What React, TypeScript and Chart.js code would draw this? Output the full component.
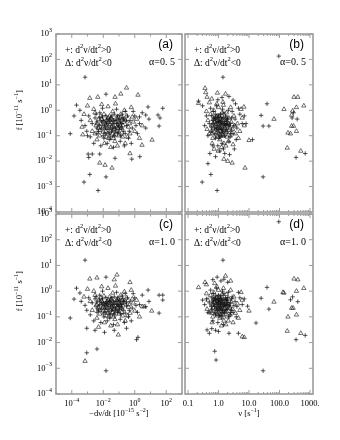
import React, { useEffect, useRef } from 'react';
import { Chart, registerables } from 'chart.js';
Chart.register(...registerables);

type P = [number, number];

// ---------- tick labels ----------
const yTickValues = [1e3, 1e2, 1e1, 1, 1e-1, 1e-2, 1e-3, 1e-4];
const yTickExps = ['3', '2', '1', '0', '−1', '−2', '−3', '−4'];
const xLeftTickValues = [1e-5, 1e-4, 1e-3, 1e-2, 1e-1, 1, 1e1, 1e2, 1e3];
const xLeftLabelValues = [1e-4, 1e-2, 1, 1e2];
const xLeftLabelExps = ['−4', '−2', '0', '2'];
const xRightLabelValues = [0.1, 1, 10, 100, 1000];
const xRightLabels = ['0.1', '1.0', '10.0', '100.0', '1000.'];

// ---------- panel (a): -dnu/dt vs f, alpha = 0.5 ----------
const aPlus: P[] = [
  [7e-4, 20], [8e-5, 0.12], [1.4e-4, 0.6], [3.3e-4, 1], [2e-4, 1.6], [6e-4, 1.5e-3], [1.4e-3, 3e-3], [4.7e-3, 7e-4],
  [0.015, 2.4e-3], [1.2e-3, 0.014], [60, 1.2], [30, 0.65], [40, 0.5], [35, 0.24], [7, 1.35], [2, 0.55], [5, 0.65],
  [0.015, 4.3], [1e-3, 0.1], [1.1e-3, 0.019], [2e-3, 0.019], [6e-3, 0.019], [0.056, 0.013], [2.1, 0.015], [0.65, 0.012],
  [2e-3, 0.3], [3e-3, 0.5], [4e-3, 0.2], [5e-3, 0.15], [6e-3, 0.8], [8e-3, 0.35], [0.01, 0.1], [0.012, 0.25], [0.015, 0.6],
  [0.02, 0.18], [0.025, 0.4], [0.03, 0.09], [0.04, 0.3], [0.05, 0.7], [0.06, 0.2], [0.08, 0.12], [0.1, 0.45], [0.12, 0.06],
  [0.15, 0.3], [0.2, 0.15], [0.25, 0.9], [0.3, 0.25], [0.4, 0.08], [0.5, 0.4], [0.7, 0.2], [1, 0.6], [1.5, 0.12], [2, 0.3],
  [3, 0.8], [1.2e-3, 0.6], [1.5e-3, 0.09], [2.5e-3, 0.05], [7e-3, 0.04], [9e-3, 1.2], [0.018, 0.05], [0.035, 0.6],
  [0.045, 0.035], [0.07, 1.1], [0.09, 0.25], [0.11, 0.18], [0.18, 0.5], [0.22, 0.04], [0.35, 0.6], [0.6, 0.05], [0.8, 0.9],
  [1.2, 0.25], [4e-4, 0.4], [7e-4, 0.25], [9e-4, 0.15], [0.013, 0.12], [0.028, 0.22], [0.055, 0.14], [0.13, 0.1],
  [0.016, 0.32], [0.004, 0.35], [0.009, 0.55], [0.033, 0.15], [0.065, 0.4], [0.16, 0.7], [0.45, 0.15], [5, 0.2], [8, 0.45],
  [4e-3, 0.12], [6e-3, 0.25], [0.01, 0.4], [0.014, 0.2], [0.02, 0.3], [0.024, 0.12], [0.03, 0.5], [0.04, 0.18], [0.05, 0.1],
  [0.07, 0.3], [0.09, 0.14], [0.12, 0.35], [0.15, 0.2], [0.2, 0.45], [0.25, 0.12], [0.011, 0.08], [0.017, 0.45],
  [0.026, 0.07], [0.045, 0.4], [0.08, 0.6], [0.1, 0.22], [0.3, 0.4], [0.006, 0.5], [0.008, 0.2], [0.0035, 0.7],
];
const aTri: P[] = [
  [0.3, 7.6], [0.13, 4.4], [0.056, 3.3], [0.0045, 3.3], [1.4e-3, 3], [1.6, 4], [12.6, 0.068], [4.5e-4, 0.22], [5e-4, 0.11],
  [6e-3, 8.5e-3], [0.013, 7e-3], [0.036, 5.4e-3], [0.5, 0.02], [2.9, 0.043],
  [1.5e-3, 0.4], [2e-3, 0.15], [3e-3, 0.8], [3.5e-3, 0.25], [5e-3, 0.45], [6e-3, 0.1], [7e-3, 0.3], [9e-3, 0.2], [0.011, 0.7],
  [0.014, 0.15], [0.017, 0.4], [0.022, 0.08], [0.027, 0.28], [0.032, 0.5], [0.038, 0.12], [0.045, 0.22], [0.055, 0.06],
  [0.065, 0.35], [0.075, 0.15], [0.09, 0.55], [0.11, 0.3], [0.14, 0.2], [0.17, 0.09], [0.2, 0.35], [0.25, 0.05], [0.3, 0.6],
  [0.4, 0.22], [0.5, 0.12], [0.6, 1.3], [0.8, 0.35], [1, 0.15], [1.3, 0.45], [2, 0.08], [3, 0.25], [1e-3, 1.5], [2.5e-3, 1.1],
  [4e-3, 0.07], [8e-3, 1.7], [0.012, 0.05], [0.02, 1.4], [0.025, 0.6], [0.03, 0.035], [0.04, 0.9], [0.06, 1.8], [0.08, 0.04],
  [0.1, 0.1], [0.13, 0.7], [0.16, 0.45], [0.22, 1], [0.35, 0.09], [0.45, 0.3], [0.7, 0.55], [0.015, 0.25], [0.05, 0.18],
  [0.007, 0.6], [0.035, 0.32], [0.12, 0.25], [0.019, 0.12], [6e-4, 0.7], [0.003, 0.12],
  [4e-3, 0.3], [5e-3, 0.2], [0.008, 0.45], [0.01, 0.14], [0.013, 0.3], [0.018, 0.2], [0.021, 0.5], [0.028, 0.15],
  [0.034, 0.22], [0.042, 0.4], [0.05, 0.1], [0.06, 0.25], [0.07, 0.5], [0.085, 0.2], [0.1, 0.35], [0.15, 0.13], [0.18, 0.25],
  [0.25, 0.4], [0.011, 0.35], [0.016, 0.09], [0.024, 0.4], [0.045, 0.08], [0.12, 0.5], [0.006, 0.16],
];

// ---------- panel (b): nu vs f, alpha = 0.5 ----------
const bPlus: P[] = [
  [1.4, 20], [95, 135], [0.29, 1.5e-3], [0.9, 7e-4], [0.56, 3e-3], [0.45, 8e-3], [29, 2.4e-3],
  [39, 1.8], [25, 0.63], [29, 0.24], [45, 0.24], [290, 0.8], [260, 0.5], [380, 0.45], [700, 0.02], [350, 0.014], [13, 0.07],
  [0.22, 2.3], [0.95, 2.6], [3, 2.5], [1.3, 3.2], [2.2, 3.5],
  [0.5, 0.3], [0.6, 0.15], [0.7, 0.5], [0.8, 0.08], [0.9, 0.25], [1, 0.6], [1.1, 0.12], [1.2, 0.35], [1.3, 0.05], [1.4, 0.2],
  [1.5, 0.8], [1.6, 0.1], [1.8, 0.4], [2, 0.15], [2.2, 0.06], [2.5, 0.3], [2.8, 0.9], [3, 0.12], [3.5, 0.45], [4, 0.2], [5, 0.7],
  [6, 0.3], [0.4, 0.6], [0.45, 0.1], [0.55, 1.2], [0.65, 0.04], [0.75, 0.2], [0.85, 1.5], [0.95, 0.04], [1.05, 0.4], [1.15, 0.7],
  [1.25, 0.18], [1.35, 1.1], [1.45, 0.03], [1.7, 0.6], [1.9, 0.28], [2.1, 1], [2.4, 0.09], [2.7, 0.5], [3.2, 0.25], [3.8, 0.07],
  [4.5, 1.2], [0.35, 0.25], [0.3, 1.5], [0.52, 0.02], [0.8, 0.015], [1.1, 0.025], [1.6, 0.02], [2.3, 0.018], [3.3, 0.03],
  [0.68, 0.9], [0.88, 0.35], [1.0, 0.18], [1.22, 0.5], [1.55, 0.3], [2.0, 0.5], [2.6, 0.15], [0.58, 0.22], [0.78, 0.7],
  [3.6, 1.8], [7, 0.6], [8, 0.3],
  [0.7, 0.3], [0.8, 0.45], [0.9, 0.15], [1.0, 0.35], [1.1, 0.22], [1.2, 0.1], [1.3, 0.28], [1.4, 0.5], [1.5, 0.14], [1.6, 0.3],
  [1.8, 0.18], [2.0, 0.35], [2.2, 0.25], [2.5, 0.12], [0.75, 0.12], [0.85, 0.2], [0.95, 0.5], [1.15, 0.3], [1.35, 0.15],
  [1.7, 0.25], [0.65, 0.4], [0.6, 0.6], [1.05, 0.08], [1.9, 0.45],
];
const bTri: P[] = [
  [0.36, 7.4], [0.42, 3.3], [0.22, 1.9], [0.92, 4.8], [1.7, 4.4], [1.4, 2.1], [0.38, 5], [0.6, 2.8], [6.8, 1.35],
  [7.4, 5.4e-3], [2.8, 8.5e-3], [1.5, 0.012], [2, 0.01],
  [300, 3.3], [400, 3.3], [630, 1.5], [360, 1.3], [140, 1.1], [270, 0.95], [250, 0.65], [66, 0.45], [190, 0.13], [230, 0.12],
  [360, 0.15], [180, 0.033], [500, 0.025], [10, 0.066], [250, 0.24], [290, 0.24],
  [0.45, 0.4], [0.5, 0.12], [0.55, 0.7], [0.6, 0.25], [0.65, 0.08], [0.7, 1], [0.75, 0.35], [0.8, 0.18], [0.85, 0.55],
  [0.9, 0.1], [0.95, 0.3], [1, 1.3], [1.05, 0.22], [1.1, 0.07], [1.15, 0.45], [1.2, 0.15], [1.3, 0.6], [1.4, 0.28], [1.5, 0.05],
  [1.6, 0.4], [1.7, 0.13], [1.8, 0.8], [2, 0.25], [2.2, 0.5], [2.4, 0.1], [2.6, 0.35], [2.9, 0.18], [3.2, 0.6], [3.6, 0.12],
  [4.2, 0.3], [5, 0.15], [6, 0.5], [0.4, 0.9], [0.5, 2], [0.62, 0.05], [0.72, 0.03], [0.88, 1.8], [0.98, 0.025], [1.25, 0.035],
  [1.45, 1.6], [1.75, 0.04], [2.1, 0.06], [2.5, 1.3], [3, 0.045], [3.4, 0.25], [0.42, 0.18], [0.68, 0.45], [0.82, 0.28],
  [1.02, 0.6], [1.22, 0.38], [1.62, 0.2], [1.92, 0.09], [2.3, 0.22], [0.58, 0.15], [1.35, 0.1], [4.5, 0.08], [5.5, 1.1], [7, 0.25],
  [0.7, 0.2], [0.78, 0.5], [0.85, 0.12], [0.92, 0.4], [1.0, 0.2], [1.08, 0.35], [1.18, 0.1], [1.28, 0.25], [1.38, 0.4],
  [1.5, 0.18], [1.65, 0.3], [1.85, 0.14], [2.1, 0.3], [2.4, 0.2], [0.66, 0.3], [0.9, 0.6], [1.12, 0.15], [1.45, 0.1],
  [1.75, 0.5], [0.6, 0.12], [1.3, 0.8], [0.95, 0.09],
];

// ---------- panel (c): -dnu/dt vs f, alpha = 1.0 ----------
const cPlus: P[] = [
  [7e-4, 16], [8e-5, 0.09], [1.4e-4, 0.49], [3.3e-4, 0.85], [9e-4, 4e-3], [4e-3, 5.6e-3], [0.015, 8e-4], [35, 0.7], [60, 0.7],
  [60, 0.45], [35, 0.14], [7, 1.1], [0.015, 3.5], [2e-4, 1.3],
  [2e-3, 0.35], [3e-3, 0.5], [4e-3, 0.22], [5e-3, 0.18], [6e-3, 0.7], [8e-3, 0.35], [0.01, 0.13], [0.012, 0.28], [0.015, 0.55],
  [0.02, 0.2], [0.025, 0.4], [0.03, 0.12], [0.04, 0.3], [0.05, 0.6], [0.06, 0.22], [0.08, 0.15], [0.1, 0.45], [0.12, 0.08],
  [0.15, 0.3], [0.2, 0.18], [0.25, 0.8], [0.3, 0.27], [0.4, 0.1], [0.5, 0.4], [0.7, 0.22], [1, 0.55], [1.5, 0.15], [2, 0.3],
  [3, 0.7], [1.2e-3, 0.55], [1.5e-3, 0.12], [2.5e-3, 0.07], [7e-3, 0.06], [9e-3, 1], [0.018, 0.07], [0.035, 0.55],
  [0.045, 0.05], [0.07, 0.9], [0.09, 0.28], [0.11, 0.2], [0.18, 0.5], [0.22, 0.06], [0.35, 0.55], [0.6, 0.07], [0.8, 0.8],
  [1.2, 0.28], [4e-4, 0.4], [7e-4, 0.28], [9e-4, 0.18], [0.013, 0.15], [0.028, 0.25], [0.055, 0.17], [0.13, 0.13],
  [0.016, 0.33], [0.004, 0.38], [0.009, 0.5], [0.033, 0.18], [0.065, 0.4], [0.16, 0.65], [0.45, 0.18], [5, 0.25], [8, 0.4],
  [1.6, 0.016], [1.3, 0.013], [0.3, 0.036], [9e-4, 0.036], [3e-3, 0.03], [0.012, 0.025], [0.05, 0.03],
  [4e-3, 0.15], [6e-3, 0.3], [0.01, 0.35], [0.014, 0.22], [0.02, 0.3], [0.024, 0.14], [0.03, 0.45], [0.04, 0.2], [0.05, 0.13],
  [0.07, 0.3], [0.09, 0.17], [0.12, 0.35], [0.15, 0.22], [0.2, 0.4], [0.25, 0.14], [0.011, 0.1], [0.017, 0.4], [0.026, 0.09],
  [0.045, 0.38], [0.08, 0.55], [0.1, 0.25], [0.3, 0.38], [0.006, 0.45], [0.008, 0.22], [0.0035, 0.6],
];
const cTri: P[] = [
  [7e-4, 1.9e-3], [0.5, 2.2], [0.074, 4.3], [1.4e-3, 3], [4e-3, 3.3], [12, 0.17], [4, 0.25], [0.05, 2.8],
  [1.5e-3, 0.4], [2e-3, 0.18], [3e-3, 0.7], [3.5e-3, 0.28], [5e-3, 0.45], [6e-3, 0.13], [7e-3, 0.3], [9e-3, 0.22],
  [0.011, 0.65], [0.014, 0.18], [0.017, 0.4], [0.022, 0.1], [0.027, 0.3], [0.032, 0.5], [0.038, 0.15], [0.045, 0.25],
  [0.055, 0.08], [0.065, 0.35], [0.075, 0.17], [0.09, 0.5], [0.11, 0.3], [0.14, 0.22], [0.17, 0.11], [0.2, 0.35], [0.25, 0.07],
  [0.3, 0.55], [0.4, 0.24], [0.5, 0.14], [0.6, 1.1], [0.8, 0.35], [1, 0.17], [1.3, 0.45], [2, 0.1], [3, 0.25], [1e-3, 1.2],
  [2.5e-3, 1], [4e-3, 0.09], [8e-3, 1.5], [0.012, 0.06], [0.02, 1.3], [0.025, 0.6], [0.03, 0.045], [0.04, 0.85], [0.06, 1.6],
  [0.08, 0.05], [0.1, 0.13], [0.13, 0.7], [0.16, 0.45], [0.22, 0.95], [0.35, 0.11], [0.45, 0.3], [0.7, 0.5], [0.015, 0.27],
  [0.05, 0.2], [0.007, 0.55], [0.035, 0.32], [0.12, 0.27], [0.019, 0.14], [6e-4, 0.6], [0.09, 0.02], [5e-3, 0.04],
  [4e-3, 0.3], [5e-3, 0.22], [0.008, 0.42], [0.01, 0.17], [0.013, 0.3], [0.018, 0.22], [0.021, 0.45], [0.028, 0.18],
  [0.034, 0.25], [0.042, 0.38], [0.05, 0.12], [0.06, 0.27], [0.07, 0.45], [0.085, 0.22], [0.1, 0.35], [0.15, 0.15],
  [0.18, 0.27], [0.25, 0.38], [0.011, 0.33], [0.016, 0.11], [0.024, 0.38], [0.045, 0.1], [0.12, 0.45], [0.006, 0.18],
];

// ---------- panel (d): nu vs f, alpha = 1.0 ----------
const dPlus: P[] = [
  [1.4, 16], [0.83, 2.1e-3], [0.75, 4.6e-3], [29, 8e-4], [95, 500],
  [39, 1.4], [25, 0.53], [45, 0.2], [270, 0.6], [230, 0.46], [400, 0.39], [700, 0.019], [350, 0.013], [17, 0.058], [9, 0.26],
  [0.9, 3.5], [1.2, 2.5], [2, 2.2], [0.65, 2.8], [1.5, 2.9],
  [0.5, 0.35], [0.6, 0.2], [0.7, 0.5], [0.8, 0.12], [0.9, 0.3], [1, 0.7], [1.1, 0.18], [1.2, 0.4], [1.3, 0.09], [1.4, 0.25],
  [1.5, 0.8], [1.6, 0.15], [1.8, 0.45], [2, 0.2], [2.2, 0.1], [2.5, 0.35], [2.8, 0.6], [3, 0.15], [3.5, 0.4], [4, 0.25],
  [5, 0.55], [6, 0.3], [0.4, 0.5], [0.45, 0.15], [0.55, 1.1], [0.65, 0.07], [0.75, 0.25], [0.85, 1.3], [0.95, 0.06],
  [1.05, 0.45], [1.15, 0.6], [1.25, 0.22], [1.35, 1], [1.45, 0.05], [1.7, 0.55], [1.9, 0.3], [2.1, 0.9], [2.4, 0.12],
  [2.7, 0.5], [3.2, 0.28], [3.8, 0.1], [4.5, 0.9], [0.35, 0.3], [0.3, 0.45], [0.42, 0.031], [0.5, 0.023], [1.0, 0.027],
  [2.2, 0.023], [0.6, 0.035], [0.8, 0.03], [0.68, 0.8], [0.88, 0.38], [1.0, 0.22], [1.22, 0.5], [1.55, 0.32], [2.0, 0.55],
  [2.6, 0.18], [0.58, 0.25], [0.78, 0.65], [4.5, 0.023], [7, 0.5],
  [0.7, 0.32], [0.8, 0.45], [0.9, 0.18], [1.0, 0.35], [1.1, 0.25], [1.2, 0.13], [1.3, 0.3], [1.4, 0.48], [1.5, 0.17],
  [1.6, 0.32], [1.8, 0.2], [2.0, 0.36], [2.2, 0.27], [2.5, 0.15], [0.75, 0.15], [0.85, 0.22], [0.95, 0.48], [1.15, 0.32],
  [1.35, 0.18], [1.7, 0.27], [0.65, 0.4], [0.6, 0.55], [1.05, 0.11], [1.9, 0.45],
];
const dTri: P[] = [
  [0.22, 1.4], [0.36, 2.2], [0.4, 1.8], [1.7, 3.9], [0.75, 2], [2.5, 2.5], [10, 0.17], [7, 0.016], [6, 0.017],
  [300, 3], [400, 2.8], [630, 1.3], [360, 1], [140, 0.85], [250, 0.22], [280, 0.22], [66, 0.38], [190, 0.1], [360, 0.12],
  [180, 0.028], [500, 0.023], [130, 0.9],
  [0.45, 0.45], [0.5, 0.15], [0.55, 0.7], [0.6, 0.3], [0.65, 0.1], [0.7, 0.9], [0.75, 0.38], [0.8, 0.2], [0.85, 0.55],
  [0.9, 0.13], [0.95, 0.32], [1, 1.1], [1.05, 0.25], [1.1, 0.09], [1.15, 0.48], [1.2, 0.17], [1.3, 0.6], [1.4, 0.3],
  [1.5, 0.07], [1.6, 0.42], [1.7, 0.15], [1.8, 0.75], [2, 0.28], [2.2, 0.5], [2.4, 0.12], [2.6, 0.38], [2.9, 0.2], [3.2, 0.6],
  [3.6, 0.14], [4.2, 0.32], [5, 0.18], [6, 0.45], [0.4, 0.8], [0.62, 0.06], [0.88, 1.5], [1.25, 0.045], [1.45, 1.3],
  [1.75, 0.05], [2.1, 0.07], [2.5, 1.1], [3, 0.06], [0.42, 0.2], [0.68, 0.48], [0.82, 0.3], [1.02, 0.6], [1.22, 0.4],
  [1.62, 0.22], [1.92, 0.1], [2.3, 0.25], [0.58, 0.17], [1.35, 0.12], [4.5, 0.09], [5.5, 0.9],
  [0.7, 0.22], [0.78, 0.5], [0.85, 0.15], [0.92, 0.42], [1.0, 0.22], [1.08, 0.36], [1.18, 0.12], [1.28, 0.27], [1.38, 0.4],
  [1.5, 0.2], [1.65, 0.32], [1.85, 0.16], [2.1, 0.32], [2.4, 0.22], [0.66, 0.32], [0.9, 0.58], [1.12, 0.17], [1.45, 0.12],
  [1.75, 0.48], [0.6, 0.14], [1.3, 0.75], [0.95, 0.11],
];

// ---------- drawing helpers ----------
const GRAY = '#9c9c9c';
const SERIF = '"Liberation Serif", "DejaVu Serif", serif';
const SANS = '"Liberation Sans", Arial, sans-serif';

type Seg = { t: string; sup?: boolean };

function drawSegs(ctx: CanvasRenderingContext2D, segs: Seg[], x: number, y: number, align: 'left' | 'center' | 'right', fs: number, efs: number) {
  const widths = segs.map((s) => {
    ctx.font = `${s.sup ? efs : fs}px ${SERIF}`;
    return ctx.measureText(s.t).width;
  });
  const total = widths.reduce((a, b) => a + b, 0);
  let cx = align === 'left' ? x : align === 'right' ? x - total : x - total / 2;
  ctx.textAlign = 'left';
  ctx.textBaseline = 'middle';
  segs.forEach((s, i) => {
    ctx.font = `${s.sup ? efs : fs}px ${SERIF}`;
    ctx.fillText(s.t, cx, s.sup ? y - fs * 0.42 : y);
    cx += widths[i];
  });
}

type PanelCfg = {
  side: 'left' | 'right';
  showY: boolean;
  showX: boolean;
  tag: string;
  alpha: string;
};

const framePlugin = {
  id: 'frame',
  afterDatasetsDraw(chart: any, _args: any, opts: PanelCfg) {
    const { ctx, chartArea: ca, scales } = chart;
    const xs = scales.x;
    const ys = scales.y;
    ctx.save();
    ctx.strokeStyle = GRAY;
    ctx.lineWidth = 1.6;
    ctx.strokeRect(ca.left, ca.top, ca.right - ca.left, ca.bottom - ca.top);
    ctx.lineWidth = 1;
    const vt = (px: number, len: number) => {
      ctx.beginPath();
      ctx.moveTo(px, ca.bottom);
      ctx.lineTo(px, ca.bottom - len);
      ctx.moveTo(px, ca.top);
      ctx.lineTo(px, ca.top + len);
      ctx.stroke();
    };
    const ht = (py: number, len: number) => {
      ctx.beginPath();
      ctx.moveTo(ca.left, py);
      ctx.lineTo(ca.left + len, py);
      ctx.moveTo(ca.right, py);
      ctx.lineTo(ca.right - len, py);
      ctx.stroke();
    };
    yTickValues.forEach((v) => ht(ys.getPixelForValue(v), 4));
    if (opts.side === 'left') {
      xLeftTickValues.forEach((v) => vt(xs.getPixelForValue(v), xLeftLabelValues.includes(v) ? 4 : 2.5));
    } else {
      xRightLabelValues.forEach((v) => {
        vt(xs.getPixelForValue(v), 4);
        for (let m = 2; m <= 9; m++) {
          const mv = v * m;
          if (mv < xs.max) vt(xs.getPixelForValue(mv), 2);
        }
      });
    }
    ctx.fillStyle = '#000';
    if (opts.showY) {
      yTickValues.forEach((v, i) => {
        drawSegs(ctx, [{ t: '10' }, { t: yTickExps[i], sup: true }], ca.left - 4, ys.getPixelForValue(v), 'right', 8.5, 6);
      });
      ctx.save();
      ctx.translate(20, ys.getPixelForValue(1));
      ctx.rotate(-Math.PI / 2);
      drawSegs(ctx, [{ t: 'f [10' }, { t: '−11', sup: true }, { t: ' s' }, { t: '−1', sup: true }, { t: ']' }], 0, 0, 'center', 8.5, 6);
      ctx.restore();
    }
    if (opts.showX) {
      const ly = ca.bottom + 10;
      if (opts.side === 'left') {
        xLeftLabelValues.forEach((v, i) => {
          drawSegs(ctx, [{ t: '10' }, { t: xLeftLabelExps[i], sup: true }], xs.getPixelForValue(v), ly, 'center', 8.5, 6);
        });
        drawSegs(ctx, [{ t: '−dν/dt [10' }, { t: '−15', sup: true }, { t: ' s' }, { t: '−2', sup: true }, { t: ']' }],
          (ca.left + ca.right) / 2, ca.bottom + 20, 'center', 8.5, 6);
      } else {
        xRightLabelValues.forEach((v, i) => {
          drawSegs(ctx, [{ t: xRightLabels[i] }], xs.getPixelForValue(v), ly, 'center', 8.5, 6);
        });
        drawSegs(ctx, [{ t: 'ν [s' }, { t: '−1', sup: true }, { t: ']' }], (ca.left + ca.right) / 2, ca.bottom + 20, 'center', 8.5, 6);
      }
    }
    // in-panel legend text
    drawSegs(ctx, [{ t: '+: d' }, { t: '2', sup: true }, { t: 'ν/dt' }, { t: '2', sup: true }, { t: '>0' }], ca.left + 9, ca.top + 16, 'left', 9.5, 6.5);
    drawSegs(ctx, [{ t: 'Δ: d' }, { t: '2', sup: true }, { t: 'ν/dt' }, { t: '2', sup: true }, { t: '<0' }], ca.left + 9, ca.top + 29, 'left', 9.5, 6.5);
    drawSegs(ctx, [{ t: opts.alpha }], ca.right - 7, ca.top + 28, 'right', 10, 7);
    ctx.font = `12px ${SANS}`;
    ctx.textAlign = 'right';
    ctx.textBaseline = 'middle';
    ctx.fillText(opts.tag, ca.right - 9, ca.top + 11);
    ctx.restore();
  },
};

type PanelDef = PanelCfg & { plus: P[]; tri: P[]; area: [number, number, number, number] };

const panels: PanelDef[] = [
  { side: 'left', showY: true, showX: false, tag: '(a)', alpha: 'α=0. 5', plus: aPlus, tri: aTri, area: [56, 34, 182, 212] },
  { side: 'right', showY: false, showX: false, tag: '(b)', alpha: 'α=0. 5', plus: bPlus, tri: bTri, area: [185, 34, 313, 212] },
  { side: 'left', showY: true, showX: true, tag: '(c)', alpha: 'α=1. 0', plus: cPlus, tri: cTri, area: [56, 214, 182, 394] },
  { side: 'right', showY: false, showX: true, tag: '(d)', alpha: 'α=1. 0', plus: dPlus, tri: dTri, area: [185, 214, 313, 394] },
];

const W = 340;
const H = 440;

function Panel({ def }: { def: PanelDef }) {
  const ref = useRef<HTMLCanvasElement | null>(null);
  useEffect(() => {
    if (!ref.current) return;
    const [l, t, r, b] = def.area;
    const chart = new Chart(ref.current, {
      type: 'scatter',
      data: {
        datasets: [
          {
            data: def.plus.map(([x, y]) => ({ x, y })),
            pointStyle: 'cross',
            pointRadius: 2.2,
            borderColor: '#111',
            borderWidth: 0.7,
            backgroundColor: 'rgba(0,0,0,0)',
          },
          {
            data: def.tri.map(([x, y]) => ({ x, y })),
            pointStyle: 'triangle',
            pointRadius: 2.5,
            borderColor: '#111',
            borderWidth: 0.6,
            backgroundColor: 'rgba(0,0,0,0)',
          },
        ],
      },
      options: {
        animation: false,
        responsive: false,
        devicePixelRatio: 1,
        events: [],
        layout: { padding: { left: l, top: t, right: W - r, bottom: H - b } },
        plugins: {
          legend: { display: false },
          tooltip: { enabled: false },
          frame: { side: def.side, showY: def.showY, showX: def.showX, tag: def.tag, alpha: def.alpha },
        } as any,
        scales: {
          x: def.side === 'left'
            ? { type: 'logarithmic', min: 1e-5, max: 1e3, display: false }
            : { type: 'logarithmic', min: 0.0794, max: 1259, display: false },
          y: { type: 'logarithmic', min: 1e-4, max: 1e3, display: false },
        },
      },
      plugins: [framePlugin as any],
    });
    return () => chart.destroy();
  }, [def]);
  return <canvas ref={ref} width={W} height={H} style={{ position: 'absolute', left: 0, top: 0, width: W, height: H }} />;
}

export default function App() {
  return (
    <div style={{ position: 'absolute', left: 0, top: 0, width: W, height: H, background: '#fff' }}>
      {panels.map((p, i) => (
        <Panel key={i} def={p} />
      ))}
    </div>
  );
}
